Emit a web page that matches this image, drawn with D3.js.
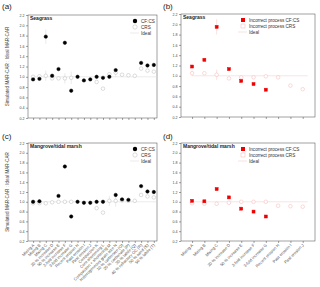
<!DOCTYPE html>
<html lang="en">
  <head>
    <meta charset="utf-8">
    <title>MAR-CAR ratios</title>
    <script type="text/javascript" src="https://cdn.jsdelivr.net/npm/d3@7"></script>
    <style type="text/css">
      body { margin: 0; background: white; }
      text { font-family: Arial, "Liberation Sans", sans-serif; }
    </style>
  </head>
  <body>
    <script type="text/javascript">

      //Categories
      var allCats = ["Mixing A", "Mixing B", "Mixing C", "20 % increase D", "50 % increase E",
                     "2-fold increase F", "3-fold increase G", "Recent erosion H", "Past erosion I",
                     "Past erosion J", "Compaction K", "Core shortening L", "Compaction + shortening M",
                     "Heterogeneous grain size N", "10 % carbonate (O)", "20 % carbonate (P)",
                     "30 % labile (Q)", "40 % refractory OC (R)", "50 % sand (S)", "50 % labile (T)"];
      var procCats = allCats.slice(0, 10);

      //Panel (a) seagrass
      var aCF  = [0.95, 0.96, 1.78, 1.02, 1.15, 1.66, 0.73, 1.00, 0.93, 0.95,
                  1.00, 0.98, 1.00, 1.13, null, null, null, 1.27, 1.22, 1.23];
      var aCRS = [1.00, 1.01, 1.02, 0.97, 0.97, 0.97, 0.98, null, null, null,
                  0.90, 0.77, 1.05, 1.08, 1.04, 1.03, 1.02, 1.16, 1.12, 1.10];
      var aCFerr  = [0, 0, 0.14, 0, 0, 0, 0, 0, 0, 0, 0, 0, 0, 0, 0, 0, 0, 0, 0, 0];
      var aCRSerr = [0, 0, 0.10, 0, 0, 0.10, 0.12, 0, 0, 0, 0, 0, 0, 0.08, 0, 0, 0, 0, 0, 0];

      //Panel (b) seagrass, incorrect process
      var bCF  = [1.18, 1.31, 1.95, 1.13, 0.90, 0.84, 0.73, null, null, null];
      var bCRS = [1.05, 1.05, 1.02, 0.95, 0.97, 0.97, 0.99, 0.97, 0.81, 0.74];
      var bCFerr  = [0, 0, 0.15, 0, 0, 0, 0, 0, 0, 0];
      var bCRSerr = [0.05, 0, 0.10, 0, 0, 0, 0, 0, 0, 0];

      //Panel (c) mangrove/tidal marsh
      var cCF  = [1.00, 1.01, null, null, 1.12, 1.72, 0.70, 1.00, 0.98, 0.98,
                  1.00, 1.00, null, 1.14, 1.05, 1.04, null, 1.32, 1.21, 1.20];
      var cCRS = [0.97, 0.97, 0.97, 0.99, 1.00, 1.00, 1.00, null, null, null,
                  0.87, 0.78, 1.02, 1.02, 1.03, 1.02, 1.02, 1.14, 1.11, 1.09];
      var cCFerr  = [0, 0, 0, 0, 0, 0, 0, 0, 0, 0, 0, 0, 0, 0, 0, 0, 0, 0, 0, 0];
      var cCRSerr = [0, 0, 0, 0, 0, 0, 0, 0, 0, 0, 0, 0, 0.10, 0.12, 0, 0, 0, 0, 0, 0];

      //Panel (d) mangrove/tidal marsh, incorrect process
      var dCF  = [1.02, 1.01, 1.26, 1.09, 0.86, 0.80, 0.70, null, null, null];
      var dCRS = [0.97, 0.96, 0.96, 0.98, 1.00, 1.00, 1.00, 0.92, 0.91, 0.90];
      var dCFerr  = [0, 0, 0, 0, 0, 0, 0, 0, 0, 0];
      var dCRSerr = [0, 0, 0, 0, 0, 0, 0.03, 0, 0, 0];

      var yTicks = [0.2, 0.4, 0.6, 0.8, 1.0, 1.2, 1.4, 1.6, 1.8, 2.0, 2.2];

      //Width and height
      var w = 320;
      var h = 287;

      var svg = d3.select("body")
            .append("svg")
            .attr("width", w)
            .attr("height", h);

      function panel(opt) {
        var n = opt.cats.length;
        var xScale = d3.scaleLinear()
              .domain(opt.xdom)
              .range([opt.left, opt.right]);
        var yScale = d3.scaleLinear()
              .domain([0.2, 2.2])
              .range([opt.bottom, opt.top]);

        var g = svg.append("g");

        //frame
        g.append("rect")
         .attr("x", opt.left).attr("y", opt.top)
         .attr("width", opt.right - opt.left)
         .attr("height", opt.bottom - opt.top)
         .attr("fill", "none")
         .attr("stroke", "#444")
         .attr("stroke-width", 0.5);

        //y axis
        var yAxis = d3.axisLeft(yScale)
              .tickValues(yTicks)
              .tickSize(2)
              .tickPadding(1.5)
              .tickFormat(d3.format(".1f"));
        var ya = g.append("g")
              .attr("transform", "translate(" + opt.left + ",0)")
              .call(yAxis);
        ya.select(".domain").remove();
        ya.selectAll("line").attr("stroke", "#444").attr("stroke-width", 0.5);
        ya.selectAll("text").attr("font-size", 3.6).attr("fill", "#444");

        //x axis
        var xAxis = d3.axisBottom(xScale)
              .tickValues(d3.range(1, n + 1))
              .tickSize(2)
              .tickFormat("");
        var xa = g.append("g")
              .attr("transform", "translate(0," + opt.bottom + ")")
              .call(xAxis);
        xa.select(".domain").remove();
        xa.selectAll("line").attr("stroke", "#444").attr("stroke-width", 0.5);

        if (opt.labels) {
          g.selectAll(".xl")
           .data(opt.cats)
           .enter()
           .append("text")
           .attr("transform", function(d, i) {
              return "translate(" + (xScale(i + 1) + 1.5) + "," + (opt.bottom + 4.5) + ") rotate(-45)";
           })
           .attr("text-anchor", "end")
           .attr("font-size", 4.1)
           .attr("fill", "#555")
           .text(function(d) { return d; });
        }

        //ideal line
        g.append("line")
         .attr("x1", xScale(1)).attr("x2", xScale(n + 0.4))
         .attr("y1", yScale(1)).attr("y2", yScale(1))
         .attr("stroke", opt.idealCol)
         .attr("stroke-width", 0.6);

        function series(vals, errs, col, fill, errCol, shape, r) {
          var pts = vals.map(function(v, i) { return { i: i, v: v, e: errs[i] }; })
                        .filter(function(d) { return d.v !== null; });
          g.selectAll(null)
           .data(pts.filter(function(d) { return d.e > 0; }))
           .enter()
           .append("line")
           .attr("x1", function(d) { return xScale(d.i + 1); })
           .attr("x2", function(d) { return xScale(d.i + 1); })
           .attr("y1", function(d) { return yScale(d.v - d.e); })
           .attr("y2", function(d) { return yScale(d.v + d.e); })
           .attr("stroke", errCol)
           .attr("stroke-width", 0.5);
          if (shape === "square") {
            g.selectAll(null)
             .data(pts)
             .enter()
             .append("rect")
             .attr("x", function(d) { return xScale(d.i + 1) - r; })
             .attr("y", function(d) { return yScale(d.v) - r; })
             .attr("width", 2 * r)
             .attr("height", 2 * r)
             .attr("fill", fill)
             .attr("stroke", col)
             .attr("stroke-width", 0.5);
          } else {
            g.selectAll(null)
             .data(pts)
             .enter()
             .append("circle")
             .attr("cx", function(d) { return xScale(d.i + 1); })
             .attr("cy", function(d) { return yScale(d.v); })
             .attr("r", r)
             .attr("fill", fill)
             .attr("stroke", col)
             .attr("stroke-width", 0.5);
          }
        }

        series(opt.crs, opt.crsErr, opt.crsCol, "white", opt.errCol, "circle", 1.8);
        series(opt.cf, opt.cfErr, opt.cfCol, opt.cfCol, opt.errCol, opt.cfShape, opt.cfShape === "square" ? 1.5 : 1.7);

        //panel title
        g.append("text")
         .attr("x", opt.left + 2).attr("y", opt.top + 5)
         .attr("font-size", 5).attr("font-weight", "bold").attr("fill", "#222")
         .text(opt.name);

        //letter
        svg.append("text")
         .attr("x", opt.letterX).attr("y", opt.letterY)
         .attr("font-size", 8).attr("fill", "#222")
         .text(opt.letter);

        //legend
        var lx = opt.legX, ly = opt.top + 6;
        var lg = g.append("g");
        if (opt.cfShape === "square") {
          lg.append("rect").attr("x", lx - 2).attr("y", ly - 2).attr("width", 4).attr("height", 4)
            .attr("fill", opt.cfCol);
          lg.append("rect").attr("x", lx - 2).attr("y", ly + 4).attr("width", 4).attr("height", 4)
            .attr("fill", "white").attr("stroke", opt.crsCol).attr("stroke-width", 0.5);
        } else {
          lg.append("circle").attr("cx", lx).attr("cy", ly).attr("r", 2.2).attr("fill", opt.cfCol);
          lg.append("circle").attr("cx", lx).attr("cy", ly + 6).attr("r", 2.2)
            .attr("fill", "white").attr("stroke", opt.crsCol).attr("stroke-width", 0.5);
        }
        lg.append("line").attr("x1", lx - 5).attr("x2", lx + 4)
          .attr("y1", ly + 12).attr("y2", ly + 12)
          .attr("stroke", opt.idealCol).attr("stroke-width", 0.6);
        lg.selectAll("text")
          .data(opt.legend)
          .enter()
          .append("text")
          .attr("x", lx + 6)
          .attr("y", function(d, i) { return ly + 1.6 + i * 6; })
          .attr("font-size", 4.6)
          .attr("fill", "#333")
          .text(function(d) { return d; });

        //y label
        if (opt.ylabel) {
          svg.append("text")
           .attr("transform", "translate(9," + ((opt.top + opt.bottom) / 2) + ") rotate(-90)")
           .attr("text-anchor", "middle")
           .attr("font-size", 4.6)
           .attr("fill", "#444")
           .text("Simulated MAR-CAR : Ideal MAR-CAR");
        }
      }

      panel({ cats: allCats, xdom: [0.2, 20.5], left: 28, right: 157, top: 15, bottom: 118,
              cf: aCF, cfErr: aCFerr, crs: aCRS, crsErr: aCRSerr,
              cfCol: "#000", crsCol: "#bbb", idealCol: "#ddd", errCol: "#d4d4d4", cfShape: "circle",
              name: "Seagrass", letter: "(a)", letterX: 2, letterY: 9,
              legX: 135, legend: ["CF:CS", "CRS", "Ideal"], ylabel: true, labels: false });

      panel({ cats: procCats, xdom: [0.1, 11], left: 181, right: 315, top: 14, bottom: 117,
              cf: bCF, cfErr: bCFerr, crs: bCRS, crsErr: bCRSerr,
              cfCol: "#ee0000", crsCol: "#f5b5b5", idealCol: "#f2d0d0", errCol: "#f6c4c4", cfShape: "square",
              name: "Seagrass", letter: "(b)", letterX: 163, letterY: 9,
              legX: 243, legend: ["Incorrect process CF:CS", "Incorrect process CRS", "Ideal"],
              ylabel: false, labels: false });

      panel({ cats: allCats, xdom: [0.2, 20.5], left: 28, right: 157, top: 143, bottom: 241,
              cf: cCF, cfErr: cCFerr, crs: cCRS, crsErr: cCRSerr,
              cfCol: "#000", crsCol: "#bbb", idealCol: "#ddd", errCol: "#d4d4d4", cfShape: "circle",
              name: "Mangrove/tidal marsh", letter: "(c)", letterX: 2, letterY: 139,
              legX: 135, legend: ["CF:CS", "CRS", "Ideal"], ylabel: true, labels: true });

      panel({ cats: procCats, xdom: [0.1, 11], left: 181, right: 315, top: 143, bottom: 241,
              cf: dCF, cfErr: dCFerr, crs: dCRS, crsErr: dCRSerr,
              cfCol: "#ee0000", crsCol: "#f5b5b5", idealCol: "#f2d0d0", errCol: "#f6c4c4", cfShape: "square",
              name: "Mangrove/tidal marsh", letter: "(d)", letterX: 163, letterY: 139,
              legX: 243, legend: ["Incorrect process CF:CS", "Incorrect process CRS", "Ideal"],
              ylabel: false, labels: true });

    </script>
  </body>
</html>
